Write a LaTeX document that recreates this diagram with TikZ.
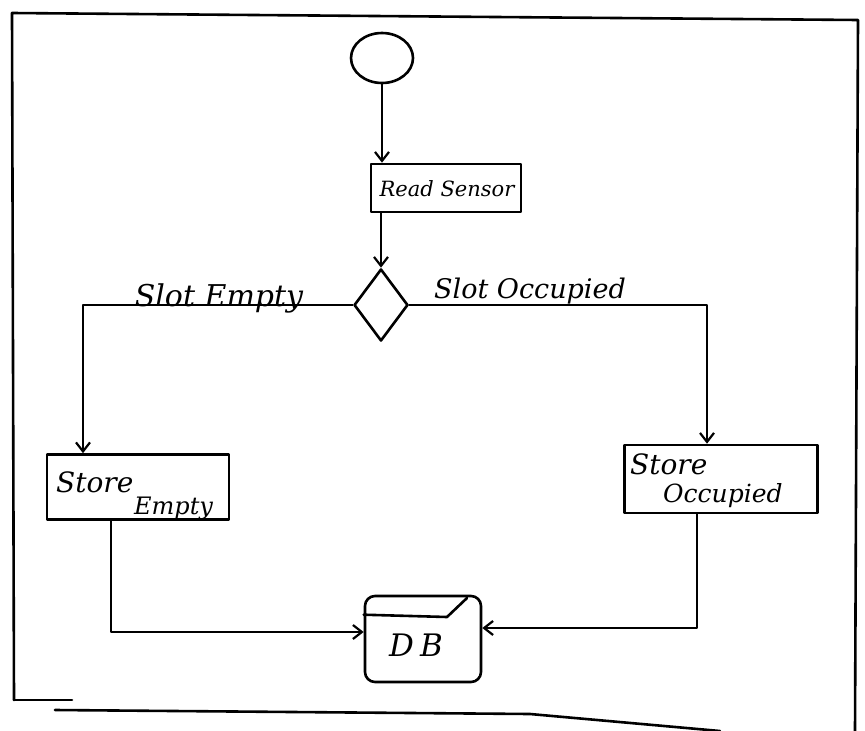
\documentclass[tikz,border=0pt]{standalone}
\usepackage{fontspec}
\newfontfamily\hand{DejaVu Serif}
\usetikzlibrary{shapes.geometric,arrows.meta}
\begin{document}
\begin{tikzpicture}[x=1pt,y=-1pt,
  ink/.style={line width=2.6pt,line cap=round,line join=round},
  conn/.style={ink,line width=2.2pt},
  arr/.style={conn,-{Straight Barb[length=9pt,width=14pt]}},
  boxnode/.style={draw,ink,rectangle,inner sep=0pt},
  txt/.style={inner sep=0pt,font=\hand\itshape\fontsize{#1}{#1}\selectfont},
  txt/.default=24]
\useasboundingbox (0,0) rectangle (865,731);
% frame
\draw[ink] (14,700) -- (12,13) -- (858,20) -- (855,731);
\draw[ink] (14,700) -- (72,700);
\draw[ink] (55,710) -- (530,714) -- (720,731);
% nodes
\node[draw,ink,ellipse,minimum width=62pt,minimum height=50pt] (start) at (382,58) {};
\node[boxnode,minimum width=150pt,minimum height=48pt] (read) at (446,188) {};
\node[txt=21] (readt) at (447,189) {Read Sensor};
\node[draw,ink,diamond,minimum width=54pt,minimum height=72pt,inner sep=0pt] (dec) at (381,305) {};
\node[boxnode,minimum width=182pt,minimum height=65pt] (se) at (138,487) {};
\node[txt=28,anchor=base west] (se1) at (56,492) {Store};
\node[txt=24,anchor=base west] (se2) at (134,514) {Empty};
\node[boxnode,minimum width=193pt,minimum height=68pt] (so) at (721,479) {};
\node[txt=28,anchor=base west] (so1) at (630,474) {Store};
\node[txt=25,anchor=base west] (so2) at (663,502) {Occupied};
\node[draw,ink,rectangle,rounded corners=10pt,minimum width=116pt,minimum height=86pt] (db) at (423,639) {};
\node[txt=31] (dbt) at (416,645) {D\kern6pt B};
\draw[ink] ([yshift=-20pt]db.north west) -- (447,617) -- (467,598);
% labels
\node[txt=30] (lse) at (219,298) {Slot Empty};
\node[txt=27] (lso) at (530,291) {Slot Occupied};
% connectors
\draw[arr] (start.south) -- (start.south |- read.north);
\draw[arr] (read.south -| dec.north) -- (dec.north);
\draw[arr] (dec.west) -| ([xshift=-55pt]se.north);
\draw[arr] (dec.east) -| ([xshift=-14pt]so.north);
\draw[arr] ([xshift=-27pt]se.south) |- ([yshift=7pt]db.west);
\draw[arr] ([xshift=-24pt]so.south) |- ([yshift=11pt]db.east);
\end{tikzpicture}
\end{document}
